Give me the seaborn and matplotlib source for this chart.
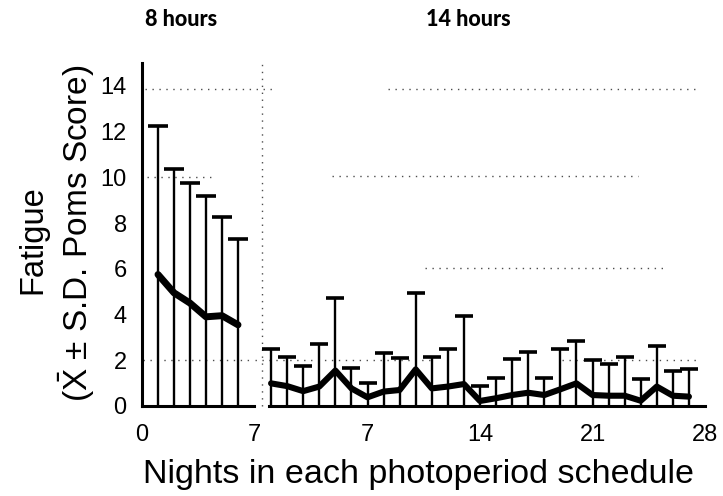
import matplotlib
matplotlib.use("Agg")
import matplotlib.pyplot as plt
import seaborn as sns
import numpy as np
import pandas as pd

# ---------------- data ----------------
left_nights = [1, 2, 3, 4, 5, 6]
left_mean = [5.75, 4.95, 4.5, 3.9, 3.95, 3.55]
left_upper = [12.25, 10.35, 9.75, 9.2, 8.25, 7.3]

right_nights = list(range(1, 28))
right_mean = [0.99, 0.87, 0.65, 0.85, 1.55, 0.77, 0.38, 0.63, 0.70, 1.60,
              0.77, 0.85, 0.96, 0.22, 0.34, 0.48, 0.58, 0.48, 0.73, 0.99,
              0.48, 0.45, 0.45, 0.23, 0.85, 0.45, 0.41]
right_upper = [2.48, 2.16, 1.75, 2.70, 4.74, 1.65, 1.02, 2.30, 2.08, 4.93,
               2.16, 2.48, 3.95, 0.89, 1.24, 2.05, 2.38, 1.24, 2.49, 2.84,
               2.01, 1.82, 2.16, 1.17, 2.64, 1.54, 1.62]

left_xticks = list(range(0, 8))
left_xlabels = ["0", "", "", "", "", "", "", "7"]
right_xticks = list(range(1, 29))
right_xlabels = [str(n) if n % 7 == 0 else "" for n in right_xticks]
yticks = [0, 2, 4, 6, 8, 10, 12, 14]

titles = ["8 hours", "14 hours"]
xlabel = "Nights in each photoperiod schedule"
ylabel1 = "Fatigue"
ylabel2 = r"($\bar{\mathrm{X}}$ ± S.D. Poms Score)"

left_df = pd.DataFrame({"night": left_nights, "mean": left_mean,
                        "sd": np.array(left_upper) - np.array(left_mean)})
right_df = pd.DataFrame({"night": right_nights, "mean": right_mean,
                         "sd": np.array(right_upper) - np.array(right_mean)})

# ---------------- style ----------------
sns.set_style("white")
plt.rcParams["font.family"] = ["Liberation Sans", "DejaVu Sans"]
plt.rcParams["mathtext.fontset"] = "custom"
plt.rcParams["mathtext.rm"] = "Liberation Sans"
plt.rcParams["mathtext.it"] = "Liberation Sans:italic"
for k in ["text.color", "axes.labelcolor", "xtick.color", "ytick.color", "axes.edgecolor"]:
    plt.rcParams[k] = "black"

W, H = 723, 496
fig = plt.figure(figsize=(W / 100, H / 100), dpi=100)
fig.patch.set_facecolor("white")

def fx(px):
    return px / W

def fy(py):
    return 1 - py / H

axL = fig.add_axes([fx(142), fy(406), fx(254) - fx(142), fy(63) - fy(406)])
axR = fig.add_axes([fx(255), fy(406), fx(705) - fx(255), fy(63) - fy(406)])

dot = (0, (1, 4))
dot_kw = dict(linestyles=[dot], colors="0.3", linewidth=1.0, clip_on=False, zorder=1)

# guide dotted lines (decoration from the scan)
axL.hlines(13.85, 0.2, 8.2, **dot_kw)
axL.hlines(10.0, 0.3, 4.4, **dot_kw)
axL.hlines(2.0, 0.06, 7.0, **dot_kw)
axR.hlines(13.86, 8.3, 27.5, **dot_kw)
axR.hlines(10.05, 4.8, 23.8, **dot_kw)
axR.hlines(6.05, 10.6, 25.4, **dot_kw)
axR.hlines(2.0, 0.0, 10.9, **dot_kw)
axR.hlines(2.0, 19.1, 27.5, **dot_kw)
axR.vlines(0.44, 0, 15, **dot_kw)

for ax, df, lw_line, cap in [(axL, left_df, 5.0, 7), (axR, right_df, 4.4, 6.5)]:
    ax.errorbar(df["night"], df["mean"], yerr=df["sd"], fmt="none",
                ecolor="black", elinewidth=1.7, capsize=cap, capthick=2.6, zorder=3)
    sns.lineplot(data=df, x="night", y="mean", ax=ax, color="black",
                 linewidth=lw_line, solid_capstyle="round", zorder=4)
    ax.set_ylim(0, 15)
    ax.set_xlabel("")
    ax.set_ylabel("")
    ax.set_facecolor("none")
    for s in ["top", "right"]:
        ax.spines[s].set_visible(False)
    ax.spines["bottom"].set_linewidth(2.2)
    ax.spines["left"].set_linewidth(2.2)
    ax.spines["bottom"].set_color("black")
    ax.spines["left"].set_color("black")
    ax.tick_params(axis="x", direction="out", length=5, width=1.6,
                   labelsize=17, pad=8, colors="black")

axL.set_xlim(0, 7)
axL.set_xticks(left_xticks)
axL.set_xticklabels(left_xlabels)
axL.set_yticks(yticks)
axL.set_yticklabels([str(v) for v in yticks])
axL.tick_params(axis="y", direction="out", length=5, width=1.6,
                labelsize=17, pad=6, colors="black")

axR.set_xlim(0, 28)
axR.set_xticks(right_xticks)
axR.set_xticklabels(right_xlabels)
axR.spines["left"].set_visible(False)
axR.spines["bottom"].set_bounds(0.85, 28)
axR.set_yticks([])

# titles
title_kw = dict(fontsize=15.5, fontweight=900, family=["Lato", "DejaVu Sans"],
                ha="center", va="baseline", color="black")
fig.text(fx(181), fy(26), titles[0], **title_kw)
fig.text(fx(468), fy(26), titles[1], **title_kw)

# axis labels
fig.text(fx(418), fy(483), xlabel, fontsize=24.5, ha="center", va="baseline", color="black")
fig.text(fx(33), fy(240), ylabel1, fontsize=23.5, rotation=90, ha="center", va="center", color="black")
fig.text(fx(77), fy(233), ylabel2, fontsize=24, rotation=90, ha="center", va="center", color="black")

fig.savefig("out.png", dpi=100, facecolor="white")
